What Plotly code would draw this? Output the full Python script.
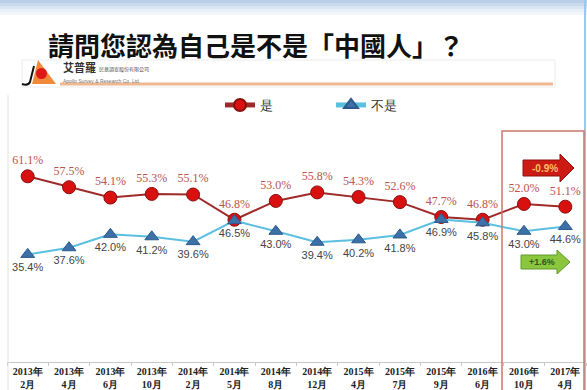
import plotly.graph_objects as go

categories = ["2013年<br>2月", "2013年<br>4月", "2013年<br>6月", "2013年<br>10月", "2014年<br>2月",
              "2014年<br>5月", "2014年<br>8月", "2014年<br>12月", "2015年<br>4月", "2015年<br>7月",
              "2015年<br>9月", "2016年<br>6月", "2016年<br>10月", "2017年<br>4月"]
yes_values = [61.1, 57.5, 54.1, 55.3, 55.1, 46.8, 53.0, 55.8, 54.3, 52.6, 47.7, 46.8, 52.0, 51.1]
no_values = [35.4, 37.6, 42.0, 41.2, 39.6, 46.5, 43.0, 39.4, 40.2, 41.8, 46.9, 45.8, 43.0, 44.6]
change_labels = ["-0.9%", "+1.6%"]

W, H = 587, 390
ML, MR, MT, MB = 7, 1, 131, 28
PW, PH = W - ML - MR, H - MT - MB


def px(x):
    return (x - ML) / PW


def py(y):
    return (H - MB - y) / PH


fig = go.Figure()
fig.add_trace(go.Scatter(
    x=categories, y=yes_values, name="是", mode="lines+markers+text",
    line=dict(color="#9e2a2a", width=2),
    marker=dict(symbol="circle", size=13, color="#d81010", line=dict(color="#8a1010", width=1)),
    text=[f"{v:.1f}%" for v in yes_values], textposition="top center",
    textfont=dict(family="Liberation Serif", size=12, color="#b9534d"),
    cliponaxis=False,
))
fig.add_trace(go.Scatter(
    x=categories, y=no_values, name="不是", mode="lines+markers+text",
    line=dict(color="#5bbfe0", width=2),
    marker=dict(symbol="triangle-up", size=12, color="#3d6fa8", line=dict(color="#2d5a8a", width=1)),
    text=[f"{v:.1f}%" for v in no_values], textposition="bottom center",
    textfont=dict(family="Liberation Sans", size=11, color="#444444"),
    cliponaxis=False,
))

shapes = []
bands = ["#b9cfe8", "#c9daee", "#d9e5f3", "#e7eff8", "#f2f6fb"]
for i, c in enumerate(bands):
    shapes.append(dict(type="rect", xref="paper", yref="paper", x0=px(0), x1=px(W),
                       y0=py(i * 3), y1=py(i * 3 + 3), fillcolor=c, line=dict(width=0), layer="below"))
shapes.append(dict(type="line", xref="paper", yref="paper", x0=px(585), x1=px(585), y0=py(0), y1=py(H),
                   line=dict(color="#9cc8ee", width=2)))
shapes.append(dict(type="line", xref="paper", yref="paper", x0=px(8), x1=px(8), y0=py(95), y1=py(H),
                   line=dict(color="#e2e2e2", width=1)))
shapes.append(dict(type="rect", xref="paper", yref="paper", x0=px(22), x1=px(555), y0=py(60), y1=py(87),
                   line=dict(color="#ececec", width=1)))
shapes.append(dict(type="line", xref="paper", yref="paper", x0=px(60), x1=px(553), y0=py(84), y1=py(84),
                   line=dict(color="#efb890", width=3)))
shapes.append(dict(type="path", xref="paper", yref="paper",
                   path=f"M {px(38)},{py(60)} L {px(56)},{py(84)} L {px(32)},{py(84)} Z",
                   fillcolor="#f08a3a", line=dict(width=0)))
shapes.append(dict(type="circle", xref="paper", yref="paper", x0=px(36), x1=px(47), y0=py(68), y1=py(79),
                   fillcolor="#e01818", line=dict(width=0)))
shapes.append(dict(type="path", xref="paper", yref="paper",
                   path=f"M {px(34)},{py(66)} L {px(30)},{py(82)} Q {px(28)},{py(86)} {px(22)},{py(84)}",
                   line=dict(color="#111111", width=2)))
shapes.append(dict(type="rect", xref="paper", yref="paper", x0=px(502), x1=px(584), y0=py(131), y1=py(395),
                   line=dict(color="#c9776c", width=1.5)))
shapes.append(dict(type="path", xref="paper", yref="paper",
                   path=(f"M {px(523)},{py(160)} L {px(560)},{py(160)} L {px(560)},{py(154)} L {px(574)},{py(168)} "
                         f"L {px(560)},{py(182)} L {px(560)},{py(176)} L {px(523)},{py(176)} Z"),
                   fillcolor="#cc1a14", line=dict(color="#8e1410", width=1)))
shapes.append(dict(type="path", xref="paper", yref="paper",
                   path=(f"M {px(521)},{py(255)} L {px(557)},{py(255)} L {px(557)},{py(250)} L {px(570)},{py(262)} "
                         f"L {px(557)},{py(274)} L {px(557)},{py(269)} L {px(521)},{py(269)} Z"),
                   fillcolor="#8cc63f", line=dict(color="#5f9a2a", width=1)))


def ann(text, x, y, size, color, family="Noto Sans CJK TC", xanchor="center"):
    return dict(text=text, xref="paper", yref="paper", x=px(x), y=py(y), xanchor=xanchor,
                yanchor="middle", showarrow=False, font=dict(family=family, size=size, color=color))


annotations = [
    ann("<b>請問您認為自己是不是「中國人」？</b>", 256, 45, 26, "#111111"),
    ann("<b>艾普羅</b>", 61, 67, 11, "#333333", xanchor="left"),
    ann("民意調查股份有限公司", 97, 69, 5, "#555555", xanchor="left"),
    ann("Apollo Survey & Research Co. Ltd.", 61, 81, 5, "#777777", "Liberation Sans", xanchor="left"),
    ann("<b>" + change_labels[0] + "</b>", 545, 168, 10, "#ffc060", "Liberation Sans"),
    ann("<b>" + change_labels[1] + "</b>", 542, 262, 9, "#2f5a1a", "Liberation Sans"),
]

fig.update_layout(
    width=W, height=H,
    margin=dict(l=ML, r=MR, t=MT, b=MB),
    paper_bgcolor="white", plot_bgcolor="white",
    showlegend=True,
    legend=dict(orientation="h", x=px(220), y=py(105), xanchor="left", yanchor="middle",
                entrywidth=66, itemwidth=30, itemsizing="constant", bgcolor="rgba(0,0,0,0)",
                font=dict(family="Liberation Serif", size=13, color="#333333")),
    shapes=shapes, annotations=annotations,
    xaxis=dict(type="category", range=[-0.5, 13.5], showgrid=False, showline=True, linecolor="#c8c8c8",
               linewidth=1, ticks="outside", ticklen=3, tickcolor="#c8c8c8", tickson="boundaries",
               tickangle=0,
               tickfont=dict(family="Liberation Serif", size=10, color="#222222", weight="bold")),
    yaxis=dict(range=[0, 76], visible=False, showgrid=False, zeroline=False),
)

fig.write_html("out.html", config={"displayModeBar": False},
               post_script="document.body.style.margin='0';")
